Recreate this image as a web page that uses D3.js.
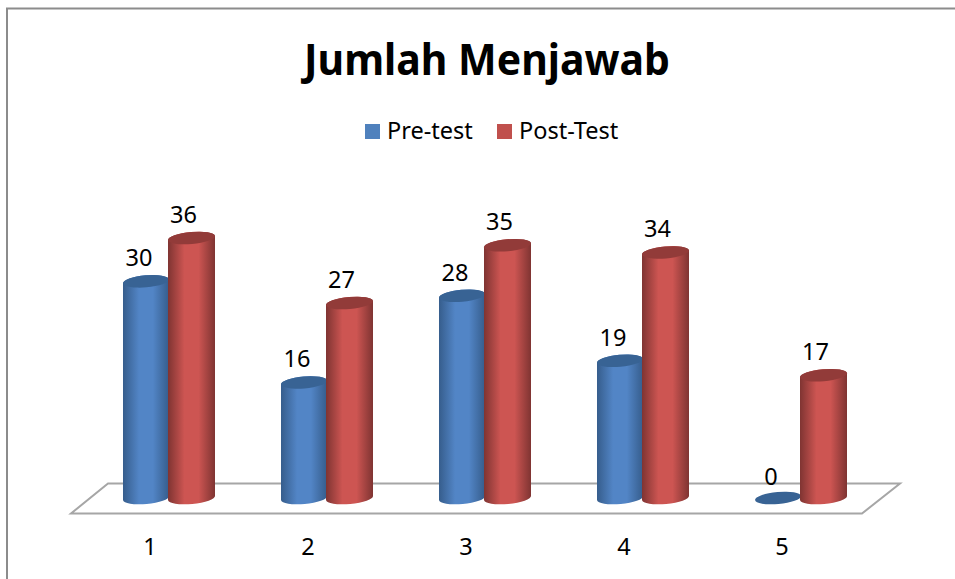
<!DOCTYPE html>
<html>
<head>
<meta charset="utf-8">
<script src="https://cdnjs.cloudflare.com/ajax/libs/d3/7.8.5/d3.min.js"></script>
<style>
    html, body { margin: 0; padding: 0; background: #fff; }
    svg { display: block; }
    text { font-family: "Noto Sans", "Open Sans", sans-serif; fill: #000; }
</style>
</head>
<body>
<svg id="chart" width="955" height="579"></svg>
<script>
const categories = ["1", "2", "3", "4", "5"];
const seriesNames = ["Pre-test", "Post-Test"];
const preTest = [30, 16, 28, 19, 0];
const postTest = [36, 27, 35, 34, 17];
const chartTitle = "Jumlah Menjawab";

const seriesColors = {
    "Pre-test": {edge: "#365d8c", mid: "#5285c6", top: "#386394", swatch: "#4f81bd"},
    "Post-Test": {edge: "#7f3432", mid: "#cd5552", top: "#923b39", swatch: "#c0504d"}
};

const svg = d3.select("#chart");

// only the top and left of the frame show in the reference
svg.append("path")
    .attr("d", d3.line()([[7, 579], [7, 8.5], [955, 8.5]]))
    .attr("fill", "none")
    .attr("stroke", "#8c8c8c")
    .attr("stroke-width", 2);

svg.append("text")
    .attr("x", 487).attr("y", 75)
    .attr("text-anchor", "middle")
    .attr("textLength", 366)
    .attr("lengthAdjust", "spacingAndGlyphs")
    .style("font-size", "43px")
    .style("font-weight", "bold")
    .text(chartTitle);

// legend
const legendX = {"Pre-test": 365, "Post-Test": 497};
seriesNames.forEach(function(name) {
    svg.append("rect")
        .attr("x", legendX[name]).attr("y", 124)
        .attr("width", 15).attr("height", 15)
        .attr("fill", seriesColors[name].swatch);
    svg.append("text")
        .attr("x", legendX[name] + 22).attr("y", 139)
        .style("font-size", "23.5px")
        .text(name);
});

const x0 = d3.scaleBand()
    .domain(categories)
    .range([90, 880])
    .paddingInner(0.4177)
    .paddingOuter(0.20885);

const x1 = d3.scaleBand()
    .domain(seriesNames)
    .range([0, x0.bandwidth()]);

const y = d3.scaleLinear()
    .domain([0, 36])
    .range([498, 238]);

// floor
svg.append("path")
    .attr("d", d3.line()([[71, 513.5], [862, 513.5], [900, 483.5], [108, 483.5]]) + "Z")
    .attr("fill", "#fff")
    .attr("stroke", "#a6a6a6")
    .attr("stroke-width", 2);

// category labels
const xAxis = svg.append("g")
    .attr("transform", "translate(-19,555)")
    .call(d3.axisBottom(x0).tickSize(0).tickPadding(0));
xAxis.select(".domain").remove();
xAxis.selectAll("text")
    .attr("y", 0)
    .attr("dy", 0)
    .style("font-size", "23.5px")
    .style("font-family", '"Noto Sans", sans-serif')
    .attr("fill", "#000");

const defs = svg.append("defs");
seriesNames.forEach(function(name, i) {
    const grad = defs.append("linearGradient").attr("id", "cyl" + i);
    grad.append("stop").attr("offset", "0%").attr("stop-color", seriesColors[name].edge);
    grad.append("stop").attr("offset", "35%").attr("stop-color", seriesColors[name].mid);
    grad.append("stop").attr("offset", "65%").attr("stop-color", seriesColors[name].mid);
    grad.append("stop").attr("offset", "100%").attr("stop-color", seriesColors[name].edge);
});

const tilt = 0.09; // ellipse lean, as rise per unit of width
const capRy = 6;

function cylinderPath(rx, top, bottom) {
    const dy = rx * tilt;
    return "M" + (-rx) + "," + (top + dy)
        + "L" + (-rx) + "," + (bottom + dy)
        + "A" + rx + "," + capRy + " -5 0 0 " + rx + "," + (bottom - dy)
        + "L" + rx + "," + (top - dy)
        + "A" + rx + "," + capRy + " -5 0 0 " + (-rx) + "," + (top + dy) + "Z";
}

const rows = [];
seriesNames.forEach(function(name, s) {
    const values = s == 0 ? preTest : postTest;
    categories.forEach(function(cat, i) {
        rows.push({cat: cat, name: name, s: s, value: values[i]});
    });
});

// red is a hair wider on its left and overlaps the blue
const radius = d => x1.bandwidth() / 2 + (d.s == 0 ? 0 : 0.5);
const bars = svg.selectAll("g.bar")
    .data(rows)
    .join("g")
    .classed("bar", true)
    .attr("transform", d => "translate(" + (x0(d.cat) + x1(d.name) + x1.bandwidth() / 2 - (d.s == 0 ? 0 : 0.5)) + ",0)");

bars.filter(d => d.value > 0).append("path")
    .attr("d", d => cylinderPath(radius(d), y(d.value), y(0)))
    .attr("fill", d => "url(#cyl" + d.s + ")");

bars.append("ellipse")
    .attr("cy", d => y(d.value))
    .attr("rx", radius)
    .attr("ry", capRy)
    .attr("transform", d => "rotate(-5 0 " + y(d.value) + ")")
    .attr("fill", d => seriesColors[d.name].top);

bars.append("text")
    .attr("x", d => d.s == 0 ? -7 : -8)
    .attr("y", d => y(d.value) - (d.value == 0 ? 13 : 15))
    .attr("text-anchor", "middle")
    .style("font-size", "23.5px")
    .text(d => d.value);
</script>
</body>
</html>
